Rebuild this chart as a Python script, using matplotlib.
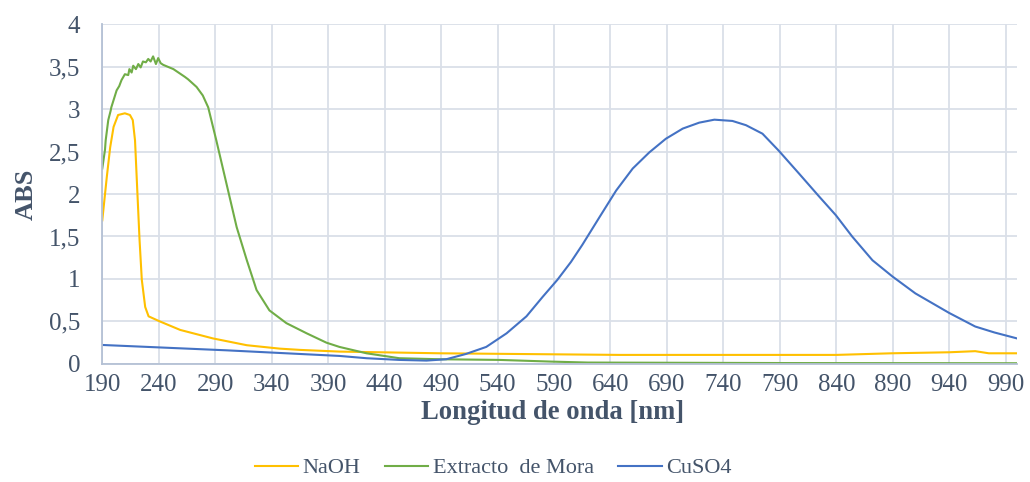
import matplotlib

matplotlib.use("Agg")

import matplotlib.pyplot as plt
from matplotlib.ticker import FuncFormatter, MultipleLocator


# NaOH absorbance spectrum
naoh_nm = [190, 194, 197, 200, 204, 210, 214.5, 217, 219, 221, 223, 225, 228, 231,
           241, 259, 288, 318, 347, 365, 400, 489, 648, 840, 889, 940, 963, 975, 1000]
naoh_abs = [1.69, 2.20, 2.55, 2.79, 2.93, 2.95, 2.93, 2.87, 2.63, 2.04, 1.46, 0.99, 0.67, 0.56,
            0.50, 0.40, 0.30, 0.22, 0.18, 0.165, 0.145, 0.125, 0.106, 0.106, 0.125, 0.137,
            0.150, 0.125, 0.125]

# Blackberry extract spectrum (noisy near the maximum)
mora_nm = [190, 192.4, 193, 195.3, 197.4, 198, 202.7, 205, 207, 210, 213, 214, 216, 217.4,
           219.8, 221.9, 224, 226, 228.6, 230.7, 232.8, 235, 237.5, 239.5, 241.7, 244, 253,
           263, 266, 273.5, 279, 283.8, 291, 300, 309, 318, 326.6, 338, 353, 365, 371, 388.5,
           400, 424, 453, 488.6, 541.6, 588, 620, 800, 1000]
mora_abs = [2.30, 2.52, 2.63, 2.87, 2.98, 3.02, 3.22, 3.27, 3.34, 3.41, 3.40, 3.47, 3.43, 3.51,
            3.47, 3.53, 3.49, 3.56, 3.55, 3.59, 3.56, 3.62, 3.53, 3.60, 3.54, 3.52, 3.47,
            3.38, 3.35, 3.26, 3.16, 3.02, 2.63, 2.12, 1.61, 1.22, 0.87, 0.63, 0.48, 0.40, 0.36,
            0.25, 0.20, 0.125, 0.067, 0.055, 0.047, 0.027, 0.016, 0.010, 0.008]

# Copper sulfate spectrum
cuso4_nm = [190, 300, 365, 400, 424, 453, 477, 494.6, 512, 530, 548, 565.6, 580, 593, 605,
            615, 630.4, 645, 659.7, 674.4, 689, 704, 718.6, 732, 748, 760, 774.6, 789, 807,
            824.8, 839.6, 854, 872, 889.6, 910, 939.9, 963, 980, 1000]
cuso4_abs = [0.223, 0.16, 0.117, 0.094, 0.067, 0.047, 0.039, 0.055, 0.117, 0.20, 0.36, 0.56,
             0.79, 0.99, 1.20, 1.40, 1.73, 2.04, 2.30, 2.49, 2.65, 2.77, 2.84, 2.875, 2.86,
             2.81, 2.71, 2.51, 2.24, 1.97, 1.75, 1.50, 1.22, 1.03, 0.83, 0.60, 0.44, 0.37, 0.30]

x_ticks = list(range(190, 1000, 50))

TEXT_COLOR = "#44546a"
GRID_COLOR = "#dadfe8"
SPINE_COLOR = "#b4c0d4"

plt.rcParams["font.family"] = ["Liberation Serif", "DejaVu Serif"]

fig = plt.figure(figsize=(10.30, 4.82), dpi=100)
ax = fig.add_axes([0.0993, 0.245, 0.8881, 0.705])

ax.plot(naoh_nm, naoh_abs, color="#ffc000", linewidth=1.5, label="NaOH")
ax.plot(mora_nm, mora_abs, color="#70ad47", linewidth=1.5, label="Extracto  de Mora")
ax.plot(cuso4_nm, cuso4_abs, color="#4472c4", linewidth=1.5, label="CuSO4")

ax.set_xlim(190, 1000)
ax.set_ylim(0, 4)
ax.set_xticks(x_ticks)
ax.yaxis.set_major_locator(MultipleLocator(0.5))
ax.yaxis.set_major_formatter(FuncFormatter(lambda v, _: f"{v:g}".replace(".", ",")))

ax.grid(True, color=GRID_COLOR, linewidth=1.3)
ax.set_axisbelow(True)
for side in ["top", "right"]:
    ax.spines[side].set_visible(False)
for side in ["left", "bottom"]:
    ax.spines[side].set_color(SPINE_COLOR)
    ax.spines[side].set_linewidth(1.3)

ax.tick_params(axis="both", length=0, labelsize=18, labelcolor=TEXT_COLOR)
ax.tick_params(axis="y", pad=16)
ax.tick_params(axis="x", pad=7)

ax.set_xlabel("Longitud de onda [nm]", fontsize=19.2, fontweight="bold", color=TEXT_COLOR, labelpad=3)
ax.xaxis.label.set_x(0.4923)
ax.set_ylabel("ABS", fontsize=19, fontweight="bold", color=TEXT_COLOR, labelpad=8)

legend = ax.legend(
    loc="center",
    bbox_to_anchor=(0.479, 0.029),
    bbox_transform=fig.transFigure,
    ncol=3,
    frameon=False,
    fontsize=16,
    handlelength=1.95,
    handletextpad=0.2,
    columnspacing=1.1,
)
for text in legend.get_texts():
    text.set_color(TEXT_COLOR)

fig.savefig("out.png", dpi=100)
plt.close(fig)
